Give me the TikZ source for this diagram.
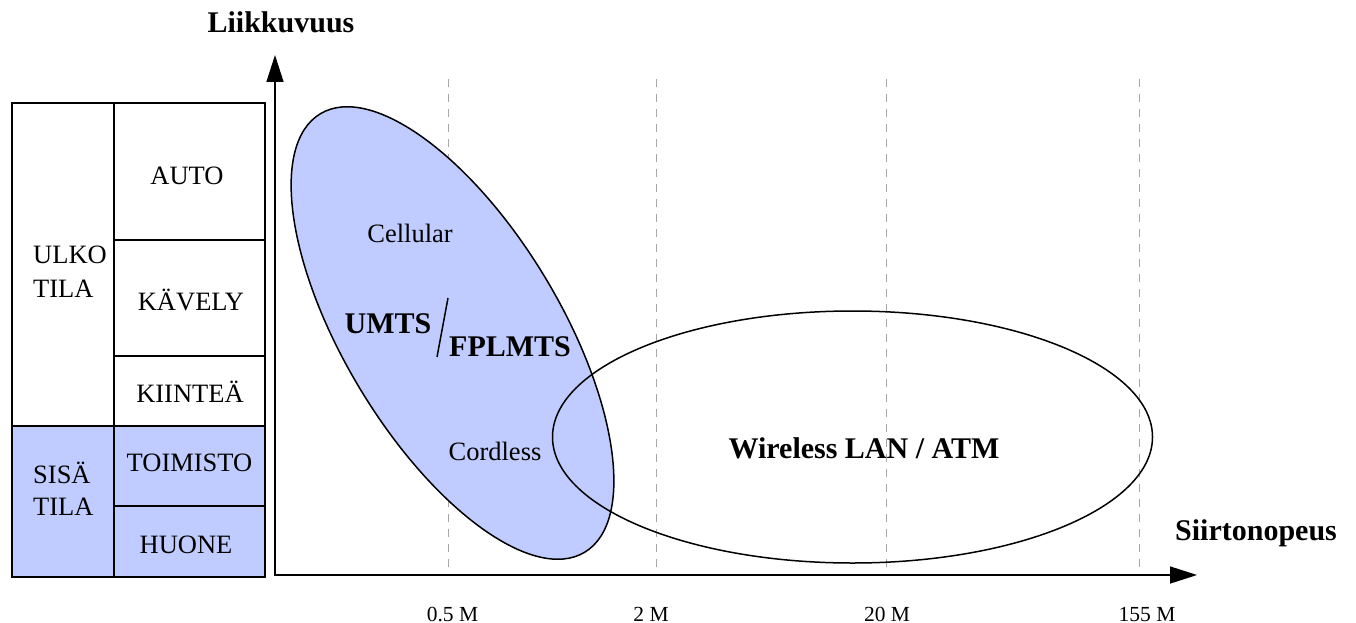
\documentclass[tikz,border=0pt]{standalone}
\usepackage{fontspec}
\setmainfont{Liberation Serif}
\usetikzlibrary{arrows.meta}
\definecolor{cellblue}{RGB}{192,204,255}
\begin{document}
\begin{tikzpicture}[x=1pt,y=-1pt,
  reg/.style={font=\fontsize{26.5}{30}\selectfont, inner sep=0pt, anchor=base},
  big/.style={font=\fontsize{30}{34}\selectfont\bfseries, inner sep=0pt, anchor=base},
  ticklbl/.style={font=\fontsize{21.5}{24}\selectfont, inner sep=0pt, anchor=base},
  gridline/.style={draw=black!35, line width=1pt, dash pattern=on 8pt off 7pt},
  cellline/.style={draw=black, line width=1.6pt},
  axisline/.style={line width=1.4pt, line join=miter, {Triangle[length=27pt,width=17pt]}-{Triangle[length=27pt,width=17pt]}},
  region/.style={line width=1.5pt, draw=black}]
\useasboundingbox (0,0) rectangle (1356,623);

% ---- table ----
\fill[cellblue] (12,426) rectangle (265,577);
\draw[cellline] (12,103) rectangle (265,577);
\draw[cellline] (114,103) -- (114,577);
\draw[cellline] (114,240) -- (265,240);
\draw[cellline] (114,356) -- (265,356);
\draw[cellline] (12,426) -- (265,426);
\draw[cellline] (114,506) -- (265,506);

\node[reg] (auto) at (187,184) {AUTO};
\node[reg] (kavely) at (191,310) {KÄVELY};
\node[reg] (kiintea) at (190,402) {KIINTEÄ};
\node[reg] (toimisto) at (189.5,471) {TOIMISTO};
\node[reg] (huone) at (186,553) {HUONE};
\node[reg, anchor=base west] (ulko) at (33,263) {ULKO};
\node[reg, anchor=base west] (ulkotila) at (33,297) {TILA};
\node[reg, anchor=base west] (sisa) at (33,483) {SISÄ};
\node[reg, anchor=base west] (sisatila) at (33,515) {TILA};

% ---- grid lines ----
\coordinate (g1t) at (448,79);  \coordinate (g1b) at (448,575);
\coordinate (g2t) at (656,79);  \coordinate (g2b) at (656,575);
\coordinate (g3t) at (886,79);  \coordinate (g3b) at (886,575);
\coordinate (g4t) at (1139,79); \coordinate (g4b) at (1139,575);
\draw[gridline] (g1t) -- (g1b);
\draw[gridline] (g2t) -- (g2b);
\draw[gridline] (g3t) -- (g3b);
\draw[gridline] (g4t) -- (g4b);

% ---- regions ----
\begin{scope}[shift={(452.5,333)}, rotate=-58.9]
  \draw[region, fill=cellblue] (0,0) ellipse [x radius=256pt, y radius=108pt];
\end{scope}
\draw[region] (852.5,437) ellipse [x radius=300pt, y radius=126pt];

% ---- axes ----
\coordinate (ytip) at (275,55);
\coordinate (origin) at (275,575);
\coordinate (xtip) at (1197,575);
\draw[axisline] (ytip) -- (origin) -- (xtip);

% ---- labels ----
\node[big] (liik) at (281,33) {Liikkuvuus};
\node[big] (siirto) at (1256,540) {Siirtonopeus};
\node[reg] (cellular) at (410,242) {Cellular};
\node[big] (umts) at (388,333) {UMTS};
\node[big] (fplmts) at (510,356) {FPLMTS};
\coordinate (slt) at (448,298);
\coordinate (slb) at (437,357);
\draw[line width=1.5pt] (slt) -- (slb);
\node[reg] (cordless) at (495,460) {Cordless};
\node[big] (wlan) at (864,458) {Wireless LAN / ATM};

\node[ticklbl] (t1) at (452.5,621) {0.5 M};
\node[ticklbl] (t2) at (651,621) {2 M};
\node[ticklbl] (t3) at (887,621) {20 M};
\node[ticklbl] (t4) at (1147,621) {155 M};
\end{tikzpicture}
\end{document}
